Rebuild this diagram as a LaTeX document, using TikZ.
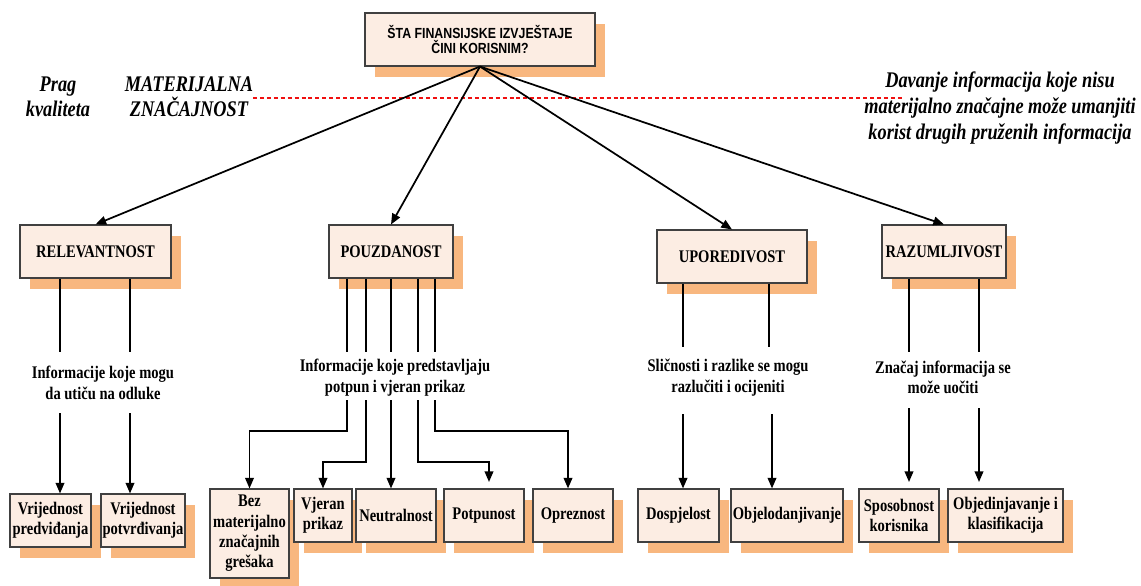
\documentclass[tikz,border=0pt]{standalone}
\usepackage{fontspec}
\setmainfont{Liberation Serif}[FakeStretch=0.82]
\newfontfamily\topfont{Liberation Sans}[FakeStretch=0.84]
\usetikzlibrary{arrows.meta,shadows,calc}
\definecolor{boxfill}{HTML}{FCEDE3}
\definecolor{shadowcol}{HTML}{F8B77F}
\definecolor{dashred}{HTML}{F01010}
\begin{document}
\begin{tikzpicture}[x=0.75pt,y=-0.75pt,
  box/.style 2 args={draw=black!75, line width=0.8pt, fill=boxfill,
    minimum width=#1*0.75pt, minimum height=#2*0.75pt, inner sep=0pt,
    align=center, font=\fontsize{13.3}{15}\selectfont\bfseries,
    drop shadow={shadow xshift=7.5pt, shadow yshift=-8.25pt, fill=shadowcol, opacity=1}},
  lbl/.style={align=center, inner sep=0pt, font=\fontsize{13.3}{15.5}\selectfont\bfseries},
  ital/.style={align=center, inner sep=0pt, font=\fontsize{16.75}{19}\selectfont\bfseries\itshape},
  ln/.style={line width=1.3pt},
  arr/.style={line width=1.3pt, -{Triangle[length=8pt,width=6.5pt]}},
  reddash/.style={dashpat, draw=dashred, line width=1.3pt},
  dashpat/.style={dash pattern=on 3pt off 2.2pt}
]
\useasboundingbox (0,0) rectangle (1141,585);

% top box
\node[box={230}{53}, font=\topfont\fontsize{11}{11.8}\selectfont\bfseries] (top) at (480,39.5)
  {ŠTA FINANSIJSKE IZVJEŠTAJE\\ČINI KORISNIM?};

% side labels
\node[ital, font=\fontsize{16.75}{18.75}\selectfont\bfseries\itshape] (prag) at (58,97) {Prag\\kvaliteta};
\node[ital, font=\fontsize{16.75}{18.75}\selectfont\bfseries\itshape] (mat) at (189,97) {MATERIJALNA\\ZNAČAJNOST};
\node[ital, font=\fontsize{16.75}{19.5}\selectfont\bfseries\itshape] (dav) at (1000,108)
  {Davanje informacija koje nisu\\materijalno značajne može umanjiti\\korist drugih pruženih informacija};
\coordinate (dl) at (253,98);
\coordinate (dr) at (903,98);
\draw[reddash] (dl) -- (dr);

% level 2
\node[box={151}{53}] (rel) at (95.5,251.5) {RELEVANTNOST};
\node[box={124}{53}] (pouz) at (391,251.5) {POUZDANOST};
\node[box={150}{53}] (upor) at (732,256.5) {UPOREDIVOST};
\node[box={124}{53}] (raz) at (944,251.5) {RAZUMLJIVOST};

\draw[arr] (top.south) -- (rel.north);
\draw[arr] (top.south) -- (pouz.north);
\draw[arr] (top.south) -- (upor.north);
\draw[arr] (top.south) -- (raz.north);

% descriptions
\node[lbl] (trel) at (103,383) {Informacije koje mogu\\da utiču na odluke};
\node[lbl] (tpouz) at (395,377.5) {Informacije koje predstavljaju\\potpun i vjeran prikaz};
\node[lbl] (tupor) at (728,377.5) {Sličnosti i razlike se mogu\\razlučiti i ocijeniti};
\node[lbl] (traz) at (943,377.5) {Značaj informacija se\\može uočiti};

% bottom boxes
\node[box={81}{53}] (vp) at (50.5,520.5) {Vrijednost\\predviđanja};
\node[box={84}{53}] (vpo) at (143,520.5) {Vrijednost\\potvrđivanja};
\node[box={79}{89}, font=\fontsize{13.3}{15.2}\selectfont\bfseries] (bez) at (249.5,533.5) {Bez\\materijalno\\značajnih\\grešaka};
\node[box={58}{53}] (vje) at (323,515.5) {Vjeran\\prikaz};
\node[box={80}{53}] (neu) at (396,515.5) {Neutralnost};
\node[box={80}{53}] (pot) at (484,515.5) {Potpunost};
\node[box={80}{53}] (opr) at (573,515.5) {Opreznost};
\node[box={81}{53}] (dos) at (678.5,515.5) {Dospjelost};
\node[box={112}{53}] (obj) at (787,515.5) {Objelodanjivanje};
\node[box={80}{53}] (spo) at (899,515.5) {Sposobnost\\korisnika};
\node[box={115}{53}] (objk) at (1005.5,515.5) {Objedinjavanje i\\klasifikacija};

% relevantnost lines
\coordinate (ra) at (60,352);
\coordinate (rb) at (130,352);
\draw[ln] (rel.south -| ra) -- (ra);
\draw[ln] (rel.south -| rb) -- (rb);
\coordinate (ra2) at (60,413);
\coordinate (rb2) at (130,413);
\draw[arr] (ra2) -- (ra2 |- vp.north);
\draw[arr] (rb2) -- (rb2 |- vpo.north);

% pouzdanost lines
\foreach \x/\n in {347/pa,366/pb,391/pc,418/pd,435/pe}{
  \coordinate (\n) at (\x,352);
  \coordinate (\n2) at (\x,400);
  \draw[ln] (pouz.south -| \n) -- (\n);
}
\draw[arr] (pa2) -- (347,431) -| (bez.north);
\draw[arr] (pb2) -- (366,462) -| (vje.north);
\draw[arr] (pc2) -- (pc2 |- neu.north);
\coordinate (potend) at (489,482);
\draw[arr] (pd2) -- (418,462) -| (potend);
\draw[arr] (pe2) -- (435,431) -| ($(opr.north)+(-5,0)$);

% uporedivost lines
\coordinate (ua) at (683,347);
\coordinate (ub) at (769,347);
\draw[ln] (upor.south -| ua) -- (ua);
\draw[ln] (upor.south -| ub) -- (ub);
\coordinate (ua2) at (683,414);
\coordinate (ub2) at (772,414);
\draw[arr] (ua2) -- (ua2 |- dos.north);
\draw[arr] (ub2) -- (ub2 |- obj.north);

% razumljivost lines
\coordinate (za) at (909,352);
\coordinate (zb) at (979,352);
\draw[ln] (raz.south -| za) -- (za);
\draw[ln] (raz.south -| zb) -- (zb);
\coordinate (za2) at (909,408);
\coordinate (zb2) at (979,408);
\coordinate (za3) at (909,482);
\coordinate (zb3) at (979,482);
\draw[arr] (za2) -- (za3);
\draw[arr] (zb2) -- (zb3);
\end{tikzpicture}
\end{document}
